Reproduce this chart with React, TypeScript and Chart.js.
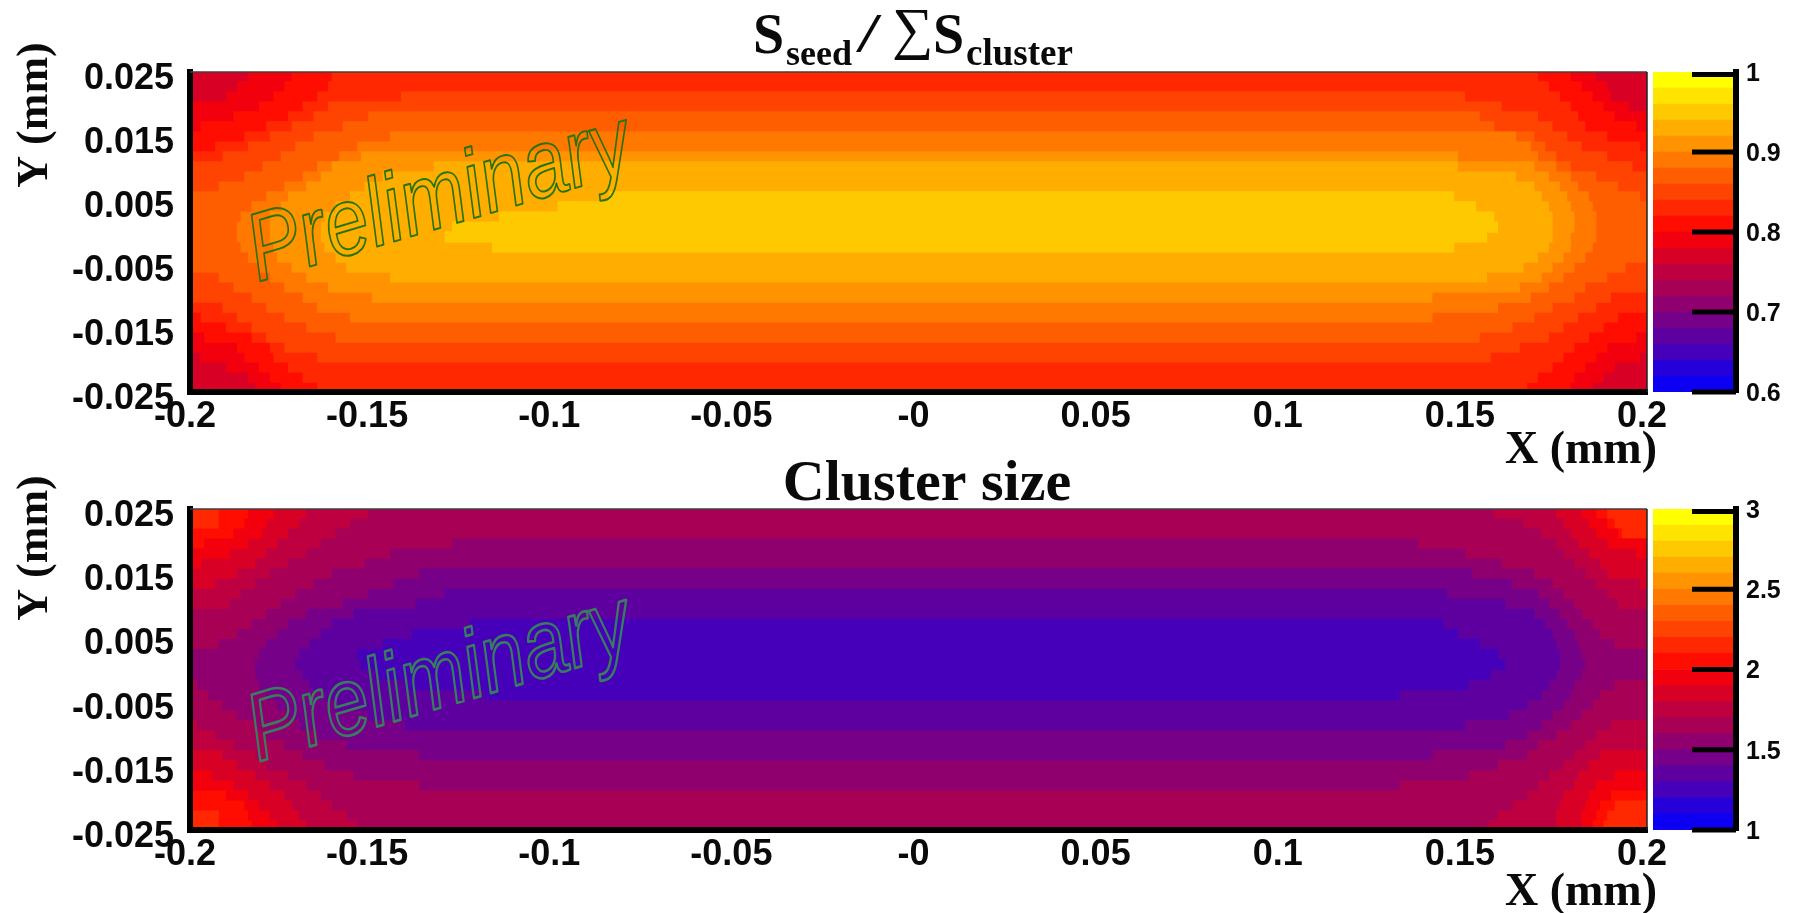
import React, { useEffect, useRef } from "react";
import { Chart, registerables } from "chart.js";

Chart.register(...registerables);

const SANS = "'Liberation Sans', Arial, sans-serif";
const SERIF = "'Liberation Serif', 'Times New Roman', serif";

// Tick labels
const xTickValues = [-0.2, -0.15, -0.1, -0.05, 0, 0.05, 0.1, 0.15, 0.2];
const xTickLabels = ["-0.2", "-0.15", "-0.1", "-0.05", "-0", "0.05", "0.1", "0.15", "0.2"];
const yTickValues = [-0.025, -0.015, -0.005, 0.005, 0.015, 0.025];
const yTickLabels = ["-0.025", "-0.015", "-0.005", "0.005", "0.015", "0.025"];
const seedBarTicks = [0.6, 0.7, 0.8, 0.9, 1];
const clusterBarTicks = [1, 1.5, 2, 2.5, 3];

// The 20 colour levels of the z scale, low to high
const palette = [
  "rgb(13,0,242)", "rgb(38,0,217)", "rgb(70,0,185)", "rgb(94,0,160)", "rgb(118,0,135)",
  "rgb(143,0,110)", "rgb(168,0,84)", "rgb(191,0,64)", "rgb(217,0,38)", "rgb(242,0,13)",
  "rgb(255,13,0)", "rgb(255,40,0)", "rgb(255,67,0)", "rgb(255,94,0)", "rgb(255,121,0)",
  "rgb(255,147,0)", "rgb(255,174,0)", "rgb(255,201,0)", "rgb(255,228,0)", "rgb(255,255,0)",
];
const seedLevelEdges = [0.6, 0.62, 0.64, 0.66, 0.68, 0.7, 0.72, 0.74, 0.76, 0.78, 0.8, 0.82, 0.84, 0.86, 0.88, 0.9, 0.92, 0.94, 0.96, 0.98, 1];
const clusterLevelEdges = [1, 1.1, 1.2, 1.3, 1.4, 1.5, 1.6, 1.7, 1.8, 1.9, 2, 2.1, 2.2, 2.3, 2.4, 2.5, 2.6, 2.7, 2.8, 2.9, 3];

// Y of each row of the map, in micrometres
const rowCentersUm = [
  24.22, 22.66, 21.09, 19.53, 17.97, 16.41, 14.84, 13.28, 11.72, 10.16, 8.59, 7.03, 5.47, 3.91, 2.34, 0.78,
  -0.78, -2.34, -3.91, -5.47, -7.03, -8.59, -10.16, -11.72, -13.28, -14.84, -16.41, -17.97, -19.53, -21.09, -22.66, -24.22,
];

// One line per row: the level at the pixel edges, then the X range (um) of each next level going inward
const seedBands = [
  [8, -184, 186, -172, 179, -161, 170],
  [8, -187, 189, -174, 182, -162, 173],
  [8, -190, 190, -177, 185, -165, 176, -142, 150],
  [8, -200, 195, -181, 188, -169, 179, -162, 160],
  [9, -188, 191, -173, 181, -166, 170, -151, 154],
  [9, -197, 197, -179, 183, -172, 174, -158, 158],
  [10, -185, 189, -178, 178, -166, 169, -145, 164],
  [10, -193, 198, -184, 182, -171, 172, -154, 168],
  [11, -191, 189, -175, 175, -159, 170, -153, 148],
  [11, -200, 196, -180, 179, -165, 175, -161, 169, -133, 148],
  [12, -185, 186, -169, 179, -164, 173, -147, 164],
  [12, -192, 192, -174, 181, -168, 176, -152, 169],
  [12, -200, 198, -179, 184, -173, 178, -156, 171, -85, 147],
  [13, -183, 185, -175, 179, -160, 173, -99, 153],
  [13, -186, 186, -178, 180, -163, 174, -115, 158],
  [13, -187, 186, -178, 180, -164, 174, -128, 159],
  [13, -187, 186, -178, 179, -164, 174, -130, 156],
  [13, -186, 185, -177, 179, -163, 173, -117, 147],
  [13, -184, 183, -176, 177, -160, 170],
  [12, -200, 194, -181, 180, -172, 174, -157, 166],
  [12, -192, 189, -178, 177, -168, 171, -145, 156],
  [12, -188, 183, -174, 173, -162, 165],
  [11, -200, 190, -183, 180, -169, 168, -150, 141],
  [11, -191, 186, -179, 174, -165, 159],
  [10, -197, 192, -187, 181, -174, 169, -156, 141],
  [10, -190, 188, -183, 177, -168, 163],
  [9, -196, 197, -183, 184, -179, 173, -160, 154],
  [9, -187, 189, -178, 180, -174, 165],
  [8, -197, 198, -185, 186, -177, 177, -165, 157],
  [8, -190, 191, -181, 183, -173, 174],
  [8, -184, 188, -178, 180, -169, 170],
  [8, -182, 185, -175, 179, -165, 167],
];

const clusterBands = [
  [11, -192, 189, -184, 186, -177, 182, -168, 175, -151, 158],
  [11, -192, 191, -185, 189, -179, 184, -170, 177, -156, 166],
  [11, -200, 193, -188, 192, -180, 186, -173, 179, -160, 171],
  [10, -196, 200, -184, 189, -176, 181, -164, 175, -128, 137],
  [9, -189, 197, -179, 184, -168, 177, -145, 150],
  [9, -197, 200, -182, 187, -173, 180, -152, 160],
  [8, -187, 189, -178, 183, -161, 169, -137, 152],
  [8, -193, 198, -182, 186, -166, 174, -144, 163],
  [7, -186, 189, -171, 177, -151, 170, -130, 145],
  [7, -189, 192, -175, 180, -158, 173, -138, 161],
  [6, -179, 182, -168, 176, -155, 169],
  [6, -183, 185, -173, 178, -161, 172, -123, 144],
  [6, -187, 187, -176, 180, -164, 174, -139, 148],
  [6, -192, 191, -179, 181, -167, 175, -147, 154],
  [5, -181, 182, -170, 176, -154, 159],
  [5, -182, 183, -171, 176, -153, 161],
  [5, -182, 182, -169, 175, -149, 157],
  [6, -198, 191, -181, 180, -167, 173, -141, 151],
  [6, -195, 187, -179, 179, -163, 171, -119, 132],
  [6, -191, 185, -176, 177, -160, 167],
  [6, -187, 182, -173, 174, -151, 162],
  [7, -198, 190, -182, 179, -170, 171, -141, 150],
  [7, -193, 186, -179, 175, -165, 167],
  [7, -188, 183, -174, 170, -157, 161],
  [8, -191, 187, -182, 180, -169, 167, -137, 141],
  [8, -187, 184, -179, 177, -163, 159],
  [9, -194, 191, -182, 181, -173, 173, -155, 151],
  [9, -188, 186, -178, 180, -168, 170, -137, 132],
  [10, -190, 190, -184, 184, -174, 177, -164, 167],
  [11, -200, 191, -185, 187, -181, 183, -172, 176, -161, 163],
  [11, -192, 189, -184, 186, -178, 182, -170, 175, -157, 159],
  [11, -192, 188, -183, 185, -176, 182, -168, 175, -154, 156],
];

function bandDatasets(rows: number[][], direction: number) {
  const byLevel = new Map<number, { x: number[]; y: number }[]>();
  const add = (level: number, y: number, x: number[]) => {
    if (!byLevel.has(level)) byLevel.set(level, []);
    byLevel.get(level)!.push({ x, y });
  };
  rows.forEach((row, i) => {
    const y = rowCentersUm[i] / 1000;
    add(row[0], y, [-0.2, 0.2]);
    for (let j = 1; j < row.length; j += 2) {
      add(row[0] + (direction * (j + 1)) / 2, y, [row[j] / 1000, row[j + 1] / 1000]);
    }
  });
  const levels = [...byLevel.keys()].sort((a, b) => (direction > 0 ? b - a : a - b));
  return levels.map((level) => ({
    data: byLevel.get(level)!,
    backgroundColor: palette[level],
    borderWidth: 0,
    grouped: false,
    barThickness: 10.6,
  }));
}

type Overlay = (ctx: CanvasRenderingContext2D, area: any) => void;

function text(ctx: CanvasRenderingContext2D, s: string, x: number, y: number, font: string, align: CanvasTextAlign = "left") {
  ctx.font = font;
  ctx.textAlign = align;
  ctx.textBaseline = "alphabetic";
  ctx.fillStyle = "#0a0a0a";
  ctx.fillText(s, x, y);
}

function yTitle(ctx: CanvasRenderingContext2D, cy: number) {
  ctx.save();
  ctx.translate(47, cy);
  ctx.rotate(-Math.PI / 2);
  text(ctx, "Y (mm)", 0, 0, `bold 44px ${SERIF}`, "center");
  ctx.restore();
}

function preliminary(ctx: CanvasRenderingContext2D, x: number, y: number, stroke: string, width: number) {
  ctx.save();
  ctx.translate(x, y);
  ctx.rotate((-16.5 * Math.PI) / 180);
  ctx.scale(1, 1.22);
  ctx.font = `italic 79px ${SANS}`;
  ctx.textAlign = "left";
  ctx.textBaseline = "alphabetic";
  ctx.lineWidth = width;
  ctx.lineJoin = "round";
  ctx.strokeStyle = stroke;
  ctx.strokeText("Preliminary", 0, 0);
  ctx.restore();
}

function frame(ctx: CanvasRenderingContext2D, area: any) {
  ctx.save();
  ctx.strokeStyle = "rgba(70,60,60,0.75)";
  ctx.lineWidth = 2;
  ctx.beginPath();
  ctx.moveTo(area.left, area.top);
  ctx.lineTo(area.right, area.top);
  ctx.stroke();
  ctx.strokeStyle = "#222";
  ctx.lineWidth = 1.5;
  ctx.beginPath();
  ctx.moveTo(area.right, area.top);
  ctx.lineTo(area.right, area.bottom);
  ctx.stroke();
  ctx.restore();
}

const overlaySeed: Overlay = (ctx, area) => {
  frame(ctx, area);
  preliminary(ctx, 258, 282, "rgb(40,115,10)", 1.6);
  yTitle(ctx, 115);
  text(ctx, "X (mm)", 1581, 463, `bold 46px ${SERIF}`, "center");
  text(ctx, "S", 753, 53, `bold 56px ${SERIF}`);
  text(ctx, "seed", 786, 65, `bold 36px ${SERIF}`);
  ctx.save();
  ctx.translate(856, 51);
  ctx.scale(1.7, 1);
  text(ctx, "/", 0, 0, `54px ${SERIF}`);
  ctx.restore();
  text(ctx, "∑", 892, 48, `58px ${SERIF}`);
  text(ctx, "S", 933, 53, `bold 56px ${SERIF}`);
  text(ctx, "cluster", 966, 65, `bold 37px ${SERIF}`);
};

const overlayCluster: Overlay = (ctx, area) => {
  frame(ctx, area);
  preliminary(ctx, 258, 762 - 455, "rgb(55,125,95)", 2.2);
  yTitle(ctx, 548 - 455);
  text(ctx, "X (mm)", 1581, 905 - 455, `bold 46px ${SERIF}`, "center");
  text(ctx, "Cluster size", 927, 500 - 455, `bold 58px ${SERIF}`, "center");
};

function makeMap(canvas: HTMLCanvasElement, rows: number[][], direction: number, top: number, bottom: number, overlay: Overlay) {
  const height = canvas.height;
  return new Chart(canvas, {
    type: "bar",
    data: { datasets: bandDatasets(rows, direction) as any },
    plugins: [{ id: "overlay", afterDraw: (c: any) => overlay(c.ctx, c.chartArea) }],
    options: {
      indexAxis: "y",
      animation: false,
      responsive: false,
      events: [],
      layout: { padding: { left: 0, right: 1800 - 1647, top, bottom: 0 } },
      plugins: { legend: { display: false }, title: { display: false }, tooltip: { enabled: false } },
      scales: {
        x: {
          type: "linear",
          min: -0.2,
          max: 0.2,
          afterBuildTicks: (s: any) => { s.ticks = xTickValues.map((value) => ({ value })); },
          afterFit: (s: any) => { s.height = height - bottom; },
          grid: { display: false, drawTicks: false },
          border: { display: true, color: "#000", width: 6, z: 2 },
          ticks: {
            autoSkip: false, maxRotation: 0, padding: 3, labelOffset: -5, color: "#0a0a0a",
            font: { family: SANS, weight: "bold", size: 36 },
            callback: (_v: any, i: number) => xTickLabels[i],
          },
        },
        y: {
          type: "linear",
          offset: false,
          min: -0.025,
          max: 0.025,
          afterBuildTicks: (s: any) => { s.ticks = yTickValues.map((value) => ({ value })); },
          afterFit: (s: any) => { s.width = 190; },
          grid: { display: false, drawTicks: false },
          border: { display: true, color: "#000", width: 6, z: 2 },
          ticks: {
            autoSkip: false, padding: 16, labelOffset: 7, color: "#0a0a0a",
            font: { family: SANS, weight: "bold", size: 36 },
            callback: (_v: any, i: number) => yTickLabels[i],
          },
        },
      },
    } as any,
  });
}

function makeBar(canvas: HTMLCanvasElement, edges: number[], ticks: number[], top: number, bottom: number) {
  const height = canvas.height;
  return new Chart(canvas, {
    type: "bar",
    data: {
      labels: [""],
      datasets: palette.map((color, i) => ({
        data: [[edges[i], edges[i + 1]]],
        backgroundColor: color,
        borderWidth: 0,
        grouped: false,
        barPercentage: 1,
        categoryPercentage: 1,
      })) as any,
    },
    plugins: [{
      id: "inwardTicks",
      afterDraw: (c: any) => {
        const { ctx, chartArea: a, scales } = c;
        ctx.save();
        ctx.strokeStyle = "#000";
        ctx.lineWidth = 5;
        ticks.forEach((t) => {
          const raw = scales.y.getPixelForValue(t);
          const y = Math.min(Math.max(raw, a.top + 2.5), a.bottom);
          ctx.beginPath();
          ctx.moveTo(a.right - 44, y);
          ctx.lineTo(a.right, y);
          ctx.stroke();
        });
        ctx.restore();
      },
    }],
    options: {
      animation: false,
      responsive: false,
      events: [],
      layout: { padding: { left: 13, right: 0, top, bottom: 0 } },
      plugins: { legend: { display: false }, title: { display: false }, tooltip: { enabled: false } },
      scales: {
        x: {
          display: true,
          afterFit: (s: any) => { s.height = height - bottom; },
          grid: { display: false, drawTicks: false },
          border: { display: false },
          ticks: { display: false },
        },
        y: {
          type: "linear",
          position: "right",
          min: edges[0],
          max: edges[edges.length - 1],
          afterBuildTicks: (s: any) => { s.ticks = ticks.map((value) => ({ value })); },
          afterFit: (s: any) => { s.width = 64; },
          grid: { display: false, drawTicks: false },
          border: { display: true, color: "#000", width: 6, z: 2 },
          ticks: {
            autoSkip: false, padding: 10, labelOffset: 2, color: "#0a0a0a",
            font: { family: SANS, weight: "bold", size: 25 },
            callback: (v: any) => String(v),
          },
        },
      },
    } as any,
  });
}

export default function App() {
  const seedMap = useRef<HTMLCanvasElement>(null);
  const seedBar = useRef<HTMLCanvasElement>(null);
  const clusterMap = useRef<HTMLCanvasElement>(null);
  const clusterBar = useRef<HTMLCanvasElement>(null);

  useEffect(() => {
    document.body.style.margin = "0";
    document.body.style.background = "#fff";
    const charts = [
      makeMap(seedMap.current!, seedBands, 1, 72, 392, overlaySeed),
      makeBar(seedBar.current!, seedLevelEdges, seedBarTicks, 72, 392),
      makeMap(clusterMap.current!, clusterBands, -1, 509 - 455, 830 - 455, overlayCluster),
      makeBar(clusterBar.current!, clusterLevelEdges, clusterBarTicks, 509 - 455, 830 - 455),
    ];
    return () => charts.forEach((c) => c.destroy());
  }, []);

  const abs = (left: number, top: number): React.CSSProperties => ({ position: "absolute", left, top, display: "block" });

  return (
    <div style={{ position: "absolute", left: 0, top: 0, width: 1800, height: 913, overflow: "hidden", background: "#fff", filter: "blur(0.7px)" }}>
      <canvas ref={seedMap} width={1800} height={480} style={abs(0, 0)} />
      <canvas ref={seedBar} width={160} height={440} style={abs(1640, 0)} />
      <canvas ref={clusterMap} width={1800} height={458} style={abs(0, 455)} />
      <canvas ref={clusterBar} width={160} height={458} style={abs(1640, 455)} />
    </div>
  );
}
